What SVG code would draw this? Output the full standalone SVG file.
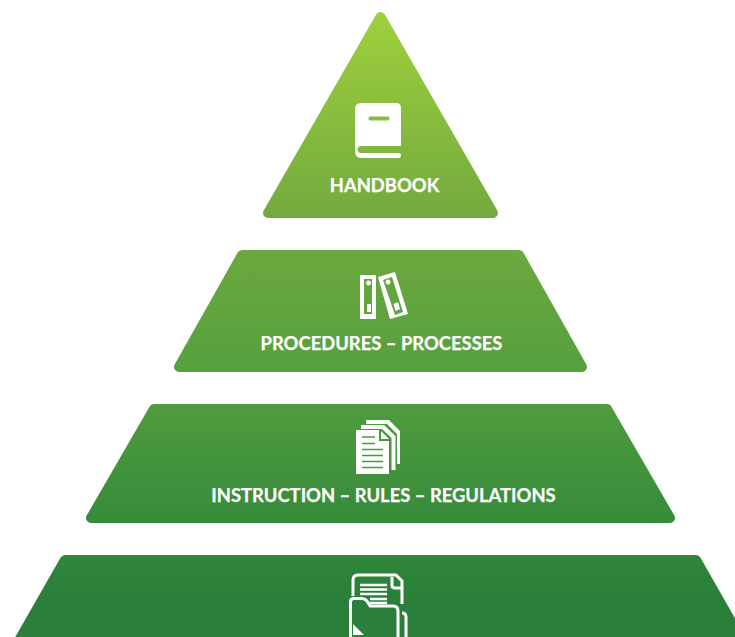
<svg xmlns="http://www.w3.org/2000/svg" width="735" height="637" viewBox="0 0 735 637">
<style>
.tier{fill:url(#g);stroke:url(#g);stroke-width:10;stroke-linejoin:round}
.label{font-family:"Lato","Liberation Sans",sans-serif;font-weight:700;font-size:18.400px;fill:#fff;text-anchor:middle;stroke:#fff;stroke-width:.25}
.w{fill:#fff}
.o{fill:none;stroke:#fff;stroke-width:3;stroke-linejoin:round}
</style>
<defs>
<linearGradient id="g" gradientUnits="userSpaceOnUse" x1="0" y1="12" x2="0" y2="600">
<stop offset="0" stop-color="#9fd03d"/>
<stop offset="0.35" stop-color="#72aa3f"/>
<stop offset="0.62" stop-color="#55a03e"/>
<stop offset="0.9" stop-color="#33883b"/>
<stop offset="1" stop-color="#2a7f3a"/>
</linearGradient>
</defs>
<rect width="735" height="637" fill="#fff"/>
<g id="handbook">
<path class="tier" d="M380.500 17L493 213H268Z"/>
<path class="w" fill-rule="evenodd" d="M361 103H396Q401 103 401 108V146H361Q358 146 357.500 149.500Q358 153 361 153H399Q401 153 401 155.500Q401 158 399 158H361Q355 158 355 151V109Q355 103 361 103ZM370 116.500Q368.500 116.500 368.500 118.500Q368.500 120.500 370 120.500H388Q389.500 120.500 389.500 118.500Q389.500 116.500 388 116.500Z"/>
<text class="label" x="384.500" y="192">HANDBOOK</text>
</g>
<g id="procedures">
<path class="tier" d="M242 255H519L582 367H179Z"/>
<path class="w" fill-rule="evenodd" d="M360 275H376V319H360ZM364 279V314H372V279ZM368.500 280.500a2.500 2.500 0 1 0 .01 0ZM367 304V312H371V304Z"/>
<path class="w" fill-rule="evenodd" d="M378 277L395 272L408 314L390 319ZM383 280L395 315L403 312L392 277ZM388 279.500a2.500 2.500 0 1 0 .01 0ZM393.500 304L398 302L400 309L395.500 311Z"/>
<text class="label" x="381.500" y="350">PROCEDURES – PROCESSES</text>
</g>
<g id="instructions">
<path class="tier" d="M154 409H607L670 518H91Z"/>
<g id="docs-icon">
<path class="w" d="M366 420H389L400 431V464H397V434L387 424H366Z"/>
<path class="w" d="M361 425H384L395.500 436V470H391.500V438L382 429H361Z"/>
<path class="w" d="M356 430H379V441H389V474H356Z"/>
<path class="w" d="M381 431L389 439H381Z"/>
<path d="M362 437H375M362 443.500H375M362 449.500H383M362 455.500H383M362 461.500H383M362 467.500H383" stroke="#4b973d" stroke-width="1.700" fill="none"/>
</g>
<text class="label" x="383.500" y="502">INSTRUCTION – RULES – REGULATIONS</text>
</g>
<g id="records">
<path class="tier" d="M65 560H696L760 672H1Z"/>
<g id="folder-icon">
<path class="o" d="M353 596V580Q353 575 358 575H396L402 581V604"/>
<path class="o" d="M392 577V585Q392 588 395 588H401" stroke-width="2.500"/>
<path d="M360 585H387M360 589.500H387M360 594H387M370 599H387M370 603H387" stroke="#fff" stroke-width="2.400" fill="none"/>
<path class="o" d="M350.500 637V602Q350.500 598.500 354 598.500H362Q365 598.500 367 601L370 606H393Q398 606 398 611V637"/>
<path class="w" d="M353 624L364 635H353Z"/>
<path class="o" d="M402 613Q406 613 406 617V637"/>
</g>
</g>
</svg>
